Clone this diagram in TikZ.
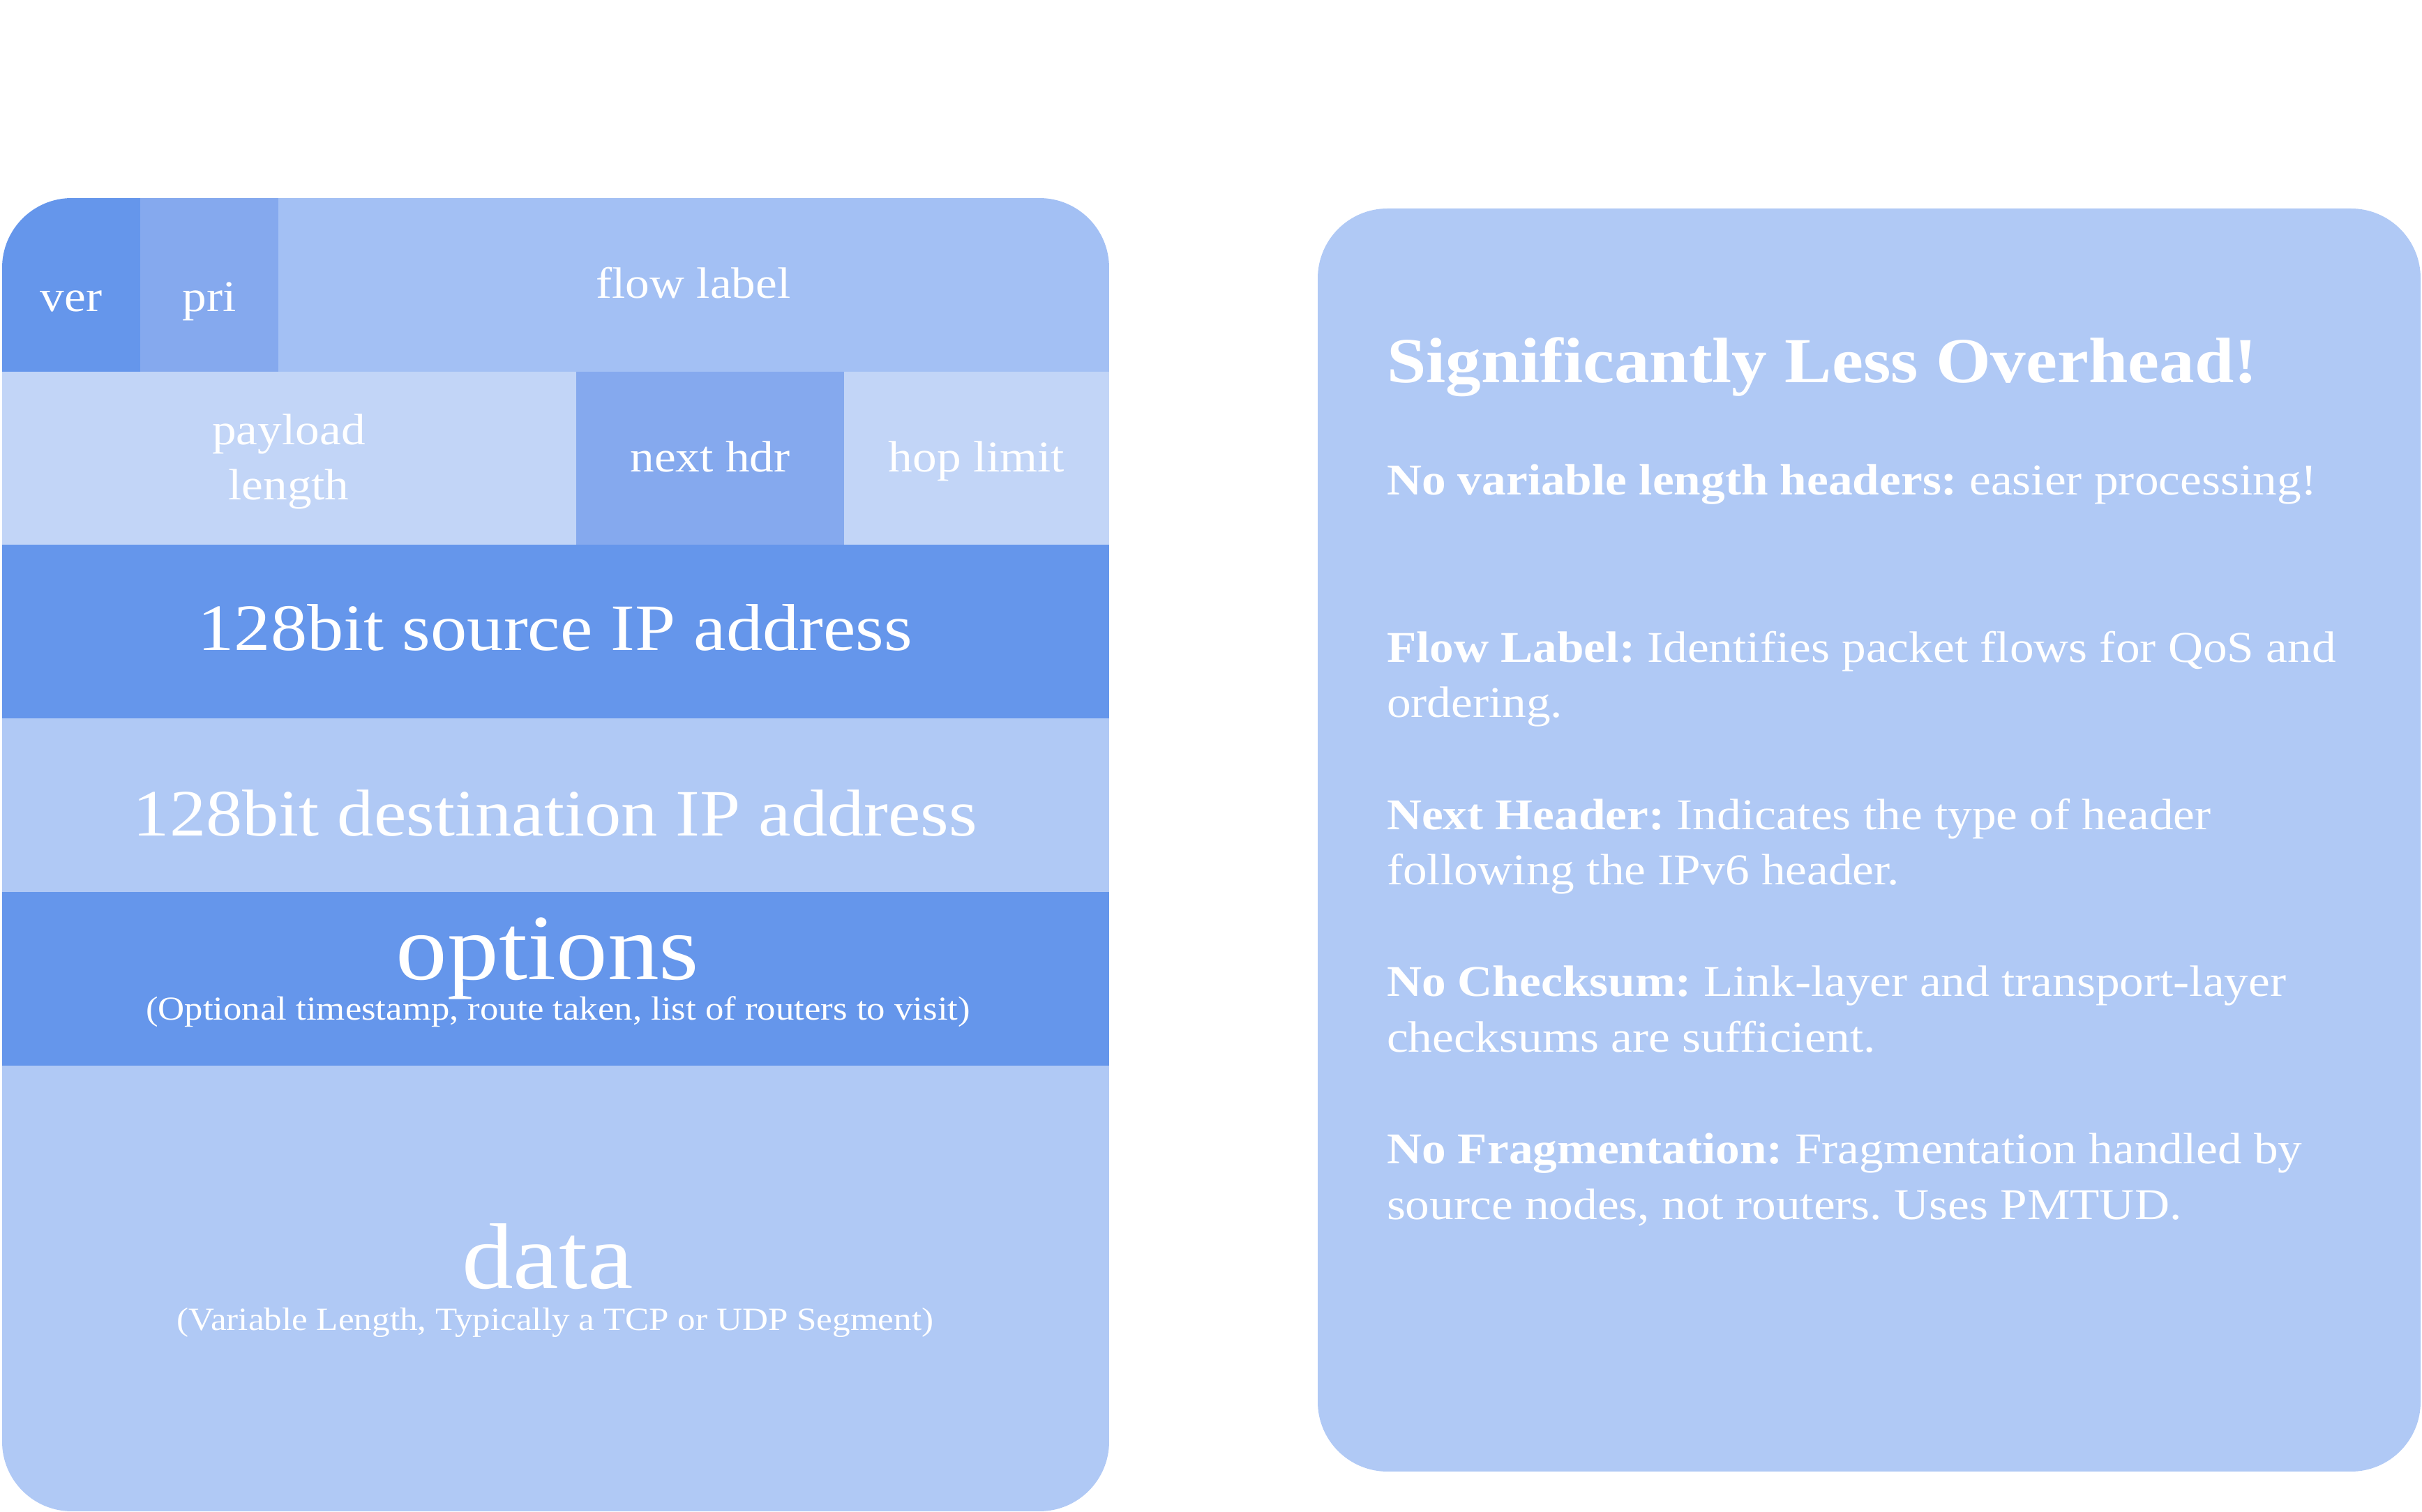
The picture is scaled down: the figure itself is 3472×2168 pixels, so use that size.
\documentclass[tikz,border=0pt]{standalone}
\usepackage{fontspec}
\setmainfont{Liberation Serif}[FakeStretch=1.1]
\frenchspacing
\definecolor{cDark}{RGB}{101,150,235}
\definecolor{cMid}{RGB}{133,169,238}
\definecolor{cFlow}{RGB}{163,192,244}
\definecolor{cPale}{RGB}{194,213,247}
\definecolor{cLight}{RGB}{176,201,245}
\begin{document}
\begin{tikzpicture}[x=0.2pt,y=-0.2pt,
  celltxt/.style={text=white,inner sep=0pt,anchor=base,font=\fontsize{12.6}{16}\selectfont},
  bigtxt/.style={text=white,inner sep=0pt,anchor=base,font=\fontsize{19}{23}\selectfont},
  hugetxt/.style={text=white,inner sep=0pt,anchor=base,font=\fontsize{26.8}{30}\selectfont},
  subtxt/.style={text=white,inner sep=0pt,anchor=base,font=\fontsize{9.4}{11}\selectfont},
  bodytxt/.style={text=white,inner sep=0pt,anchor=base west,font=\fontsize{12.6}{16}\selectfont},
  titletxt/.style={text=white,inner sep=0pt,anchor=base west,font=\bfseries\fontsize{18.4}{22}\selectfont}]
\useasboundingbox (0,0) rectangle (3472,2168);
% left header box
\begin{scope}
\clip[rounded corners=20pt] (3,284) rectangle (1590,2167);
\fill[cDark] (3,284) rectangle (201,533);
\fill[cMid] (201,284) rectangle (399,533);
\fill[cFlow] (399,284) rectangle (1590,533);
\fill[cPale] (3,533) rectangle (826,781);
\fill[cMid] (826,533) rectangle (1210,781);
\fill[cPale] (1210,533) rectangle (1590,781);
\fill[cDark] (3,781) rectangle (1590,1030);
\fill[cLight] (3,1030) rectangle (1590,1279);
\fill[cDark] (3,1279) rectangle (1590,1528);
\fill[cLight] (3,1528) rectangle (1590,2167);
\end{scope}
\node[celltxt] (ver) at (102,447) {ver};
\node[celltxt] (pri) at (300,447) {pri};
\node[celltxt] (flow) at (994,428) {flow label};
\node[celltxt] (payload) at (414,638) {payload};
\node[celltxt] (length) at (414,717) {length};
\node[celltxt] (nexthdr) at (1018,677) {next hdr};
\node[celltxt] (hop) at (1400,677) {hop limit};
\node[bigtxt] (src) at (796,933) {128bit source IP address};
\node[bigtxt] (dst) at (796,1199) {128bit destination IP address};
\node[hugetxt] (opt) at (785,1405) {options};
\node[subtxt,font=\fontsize{9.6}{11}\selectfont] (optsub) at (800,1463) {(Optional timestamp, route taken, list of routers to visit)};
\node[hugetxt] (data) at (785,1848) {data};
\node[subtxt,font=\fontsize{9.3}{11}\selectfont] (datasub) at (796,1908) {(Variable Length, Typically a TCP or UDP Segment)};
% right box
\fill[cLight,rounded corners=20pt] (1889,299) rectangle (3470,2110);
\node[titletxt] (title) at (1987,549) {Significantly Less Overhead!};
\node[bodytxt] (l1) at (1987,710) {\textbf{No variable length headers:} easier processing!};
\node[bodytxt] (l2) at (1987,950) {\textbf{Flow Label:} Identifies packet flows for QoS and};
\node[bodytxt] (l3) at (1987,1029) {ordering.};
\node[bodytxt] (l4) at (1987,1190) {\textbf{Next Header:} Indicates the type of header};
\node[bodytxt] (l5) at (1987,1269) {following the IPv6 header.};
\node[bodytxt] (l6) at (1987,1429) {\textbf{No Checksum:} Link-layer and transport-layer};
\node[bodytxt] (l7) at (1987,1509) {checksums are sufficient.};
\node[bodytxt] (l8) at (1987,1669) {\textbf{No Fragmentation:} Fragmentation handled by};
\node[bodytxt] (l9) at (1987,1749) {source nodes, not routers. Uses PMTUD.};
\end{tikzpicture}
\end{document}
